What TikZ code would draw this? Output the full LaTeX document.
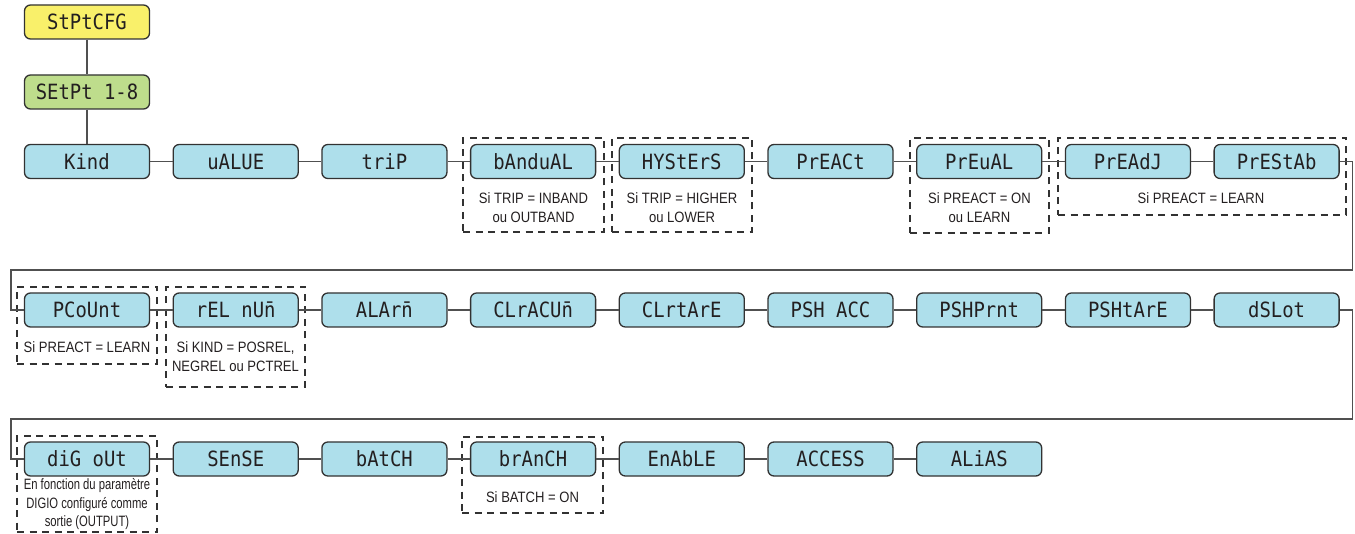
\documentclass[tikz,border=0pt]{standalone}
\usepackage{fontspec}
\setmainfont{Liberation Sans}
\newfontfamily\segfont[FakeStretch=0.9]{DejaVu Sans Mono}
\newfontfamily\notefont[FakeStretch=0.87]{Liberation Sans}
\newfontfamily\notenarrow[FakeStretch=0.75]{Liberation Sans}
\definecolor{boxblue}{RGB}{174,223,235}
\definecolor{boxyellow}{RGB}{249,240,106}
\definecolor{boxgreen}{RGB}{190,221,140}
\definecolor{boxline}{RGB}{50,50,50}
\definecolor{linegray}{RGB}{80,80,80}
\definecolor{ink}{RGB}{35,31,32}
\tikzset{
  blk/.style={draw=boxline, line width=1.3pt, rounded corners=6pt, fill=boxblue,
    minimum width=125pt, minimum height=34pt, inner sep=0pt,
    text height=15.3pt, text depth=0pt, text=ink,
    font=\segfont\fontsize{21}{21}\selectfont},
  blkyellow/.style={blk, fill=boxyellow},
  blkgreen/.style={blk, fill=boxgreen},
  link/.style={draw=linegray, line width=1.3pt},
  grp/.style={draw=boxline, line width=1.2pt, dash pattern=on 7pt off 5.5pt, inner sep=0pt},
  note/.style={align=center, inner sep=0pt, text=ink, font=\notefont\fontsize{15}{19}\selectfont},
  notenar/.style={align=center, inner sep=0pt, text=ink, font=\notenarrow\fontsize{15}{18.5}\selectfont}
}
\begin{document}
\begin{tikzpicture}[x=1pt,y=-1pt]
\useasboundingbox (0,0) rectangle (1355,534);
% dashed condition groups
\node[grp, minimum width=141pt, minimum height=94pt] (g1) at (533.5,185) {};
\node[grp, minimum width=140pt, minimum height=94pt] (g2) at (682,185) {};
\node[grp, minimum width=139pt, minimum height=95pt] (g3) at (979.5,185.5) {};
\node[grp, minimum width=288pt, minimum height=77pt] (g4) at (1202,176.5) {};
\node[grp, minimum width=140pt, minimum height=77pt] (g5) at (87,325.5) {};
\node[grp, minimum width=139pt, minimum height=100pt] (g6) at (235.5,337) {};
\node[grp, minimum width=140pt, minimum height=96pt] (g7) at (87,484) {};
\node[grp, minimum width=141pt, minimum height=76pt] (g8) at (532.5,475) {};
% condition texts
\node[note] (t1) at (533.5,207.5) {Si TRIP = INBAND\\ou OUTBAND};
\node[note] (t2) at (682,207.5) {Si TRIP = HIGHER\\ou LOWER};
\node[note] (t3) at (979.5,207.5) {Si PREACT = ON\\ou LEARN};
\node[note] (t4) at (1201,198) {Si PREACT = LEARN};
\node[note] (t5) at (87,347) {Si PREACT = LEARN};
\node[note] (t6) at (235.5,357) {Si KIND = POSREL,\\NEGREL ou PCTREL};
\node[notenar] (t7) at (87,504.5) {En fonction du paramètre\\DIGIO configuré comme\\sortie (OUTPUT)};
\node[note] (t8) at (532.5,497) {Si BATCH = ON};
% top
\node[blkyellow] (top) at (87,22) {StPtCFG};
\node[blkgreen] (sp) at (87,92) {SEtPt 1-8};
% row 1
\node[blk] (a1) at (87,161.5) {Kind};
\node[blk] (a2) at (235.7,161.5) {uALUE};
\node[blk] (a3) at (384.4,161.5) {triP};
\node[blk] (a4) at (533.1,161.5) {bAnduAL};
\node[blk] (a5) at (681.8,161.5) {HYStErS};
\node[blk] (a6) at (830.5,161.5) {PrEACt};
\node[blk] (a7) at (979.2,161.5) {PrEuAL};
\node[blk] (a8) at (1127.9,161.5) {PrEAdJ};
\node[blk] (a9) at (1276.6,161.5) {PrEStAb};
% row 2
\node[blk] (b1) at (87,310) {PCoUnt};
\node[blk] (b2) at (235.7,310) {rEL nU\=n};
\node[blk] (b3) at (384.4,310) {ALAr\=n};
\node[blk] (b4) at (533.1,310) {CLrACU\=n};
\node[blk] (b5) at (681.8,310) {CLrtArE};
\node[blk] (b6) at (830.5,310) {PSH ACC};
\node[blk] (b7) at (979.2,310) {PSHPrnt};
\node[blk] (b8) at (1127.9,310) {PSHtArE};
\node[blk] (b9) at (1276.6,310) {dSLot};
% row 3
\node[blk] (c1) at (87,459) {diG oUt};
\node[blk] (c2) at (235.7,459) {SEnSE};
\node[blk] (c3) at (384.4,459) {bAtCH};
\node[blk] (c4) at (533.1,459) {brAnCH};
\node[blk] (c5) at (681.8,459) {EnAbLE};
\node[blk] (c6) at (830.5,459) {ACCESS};
\node[blk] (c7) at (979.2,459) {ALiAS};
% turn coordinates
\coordinate (r1) at (1352.5,270);
\coordinate (l1) at (11,270);
\coordinate (r2) at (1352.5,419);
\coordinate (l2) at (11,419);
% connectors
\draw[link] (top) -- (sp);
\draw[link] (sp) -- (a1);
\foreach \i/\j in {1/2,2/3,3/4,4/5,5/6,6/7,7/8,8/9}{
  \draw[link] (a\i) -- (a\j);
  \draw[link] (b\i) -- (b\j);
}
\foreach \i/\j in {1/2,2/3,3/4,4/5,5/6,6/7}{
  \draw[link] (c\i) -- (c\j);
}
\draw[link] (a9.east) -| (r1) -- (l1) |- (b1.west);
\draw[link] (b9.east) -| (r2) -- (l2) |- (c1.west);
\end{tikzpicture}
\end{document}
